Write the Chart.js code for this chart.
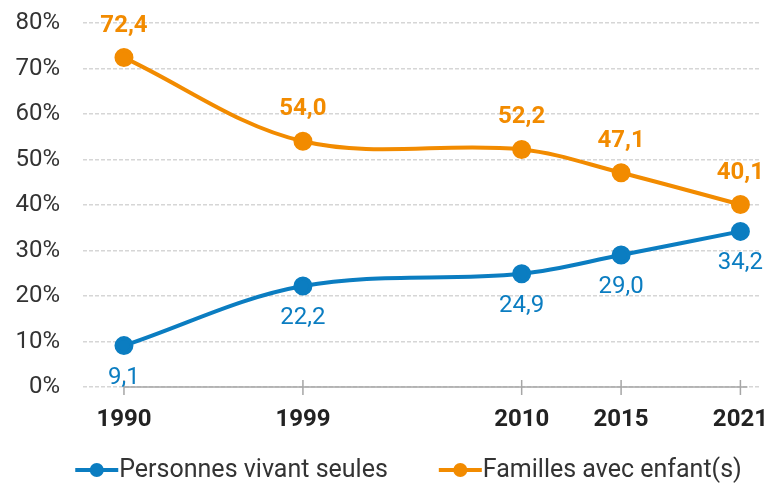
<!DOCTYPE html>
<html>
<head>
<meta charset="utf-8">
<script src="https://cdn.jsdelivr.net/npm/chart.js@4"></script>
<style>
html,body{margin:0;padding:0;background:#fff;}
#wrap{width:771px;height:486px;position:relative;}
</style>
</head>
<body>
<div id="wrap"><canvas id="c" width="771" height="486"></canvas></div>
<script>
const years = [1990, 1999, 2010, 2015, 2021];
const seules = [9.1, 22.2, 24.9, 29.0, 34.2];
const familles = [72.4, 54.0, 52.2, 47.1, 40.1];
const yTicks = [0, 10, 20, 30, 40, 50, 60, 70, 80];
const seriesNames = ['Personnes vivant seules', 'Familles avec enfant(s)'];

const BLUE = '#0b7dc1';
const ORANGE = '#f28b00';
const TEXT = '#333333';

const fmt = v => v.toFixed(1).replace('.', ',');

const labelsPlugin = {
  id: 'valueLabels',
  afterDatasetsDraw(chart) {
    const ctx = chart.ctx;
    chart.data.datasets.forEach((ds, di) => {
      const meta = chart.getDatasetMeta(di);
      ctx.save();
      ctx.fillStyle = ds.borderColor;
      ctx.textAlign = 'center';
      ctx.textBaseline = 'middle';
      ctx.font = di === 1 ? 'bold 24px Roboto' : '24px Roboto';
      meta.data.forEach((pt, i) => {
        const dy = di === 1 ? -32 : 32;
        ctx.fillText(fmt(ds.data[i].y), pt.x, pt.y + dy);
      });
      ctx.restore();
    });
  }
};

const axisPlugin = {
  id: 'xAxisLine',
  beforeDatasetsDraw(chart) {
    const ctx = chart.ctx;
    const xs = chart.scales.x, ys = chart.scales.y;
    const y0 = ys.getPixelForValue(0);
    const x1 = xs.getPixelForValue(years[0]);
    const x2 = xs.getPixelForValue(years[years.length - 1]);
    ctx.save();
    ctx.strokeStyle = '#a6a6a6';
    ctx.lineWidth = 1.5;
    ctx.beginPath();
    ctx.moveTo(x1, y0); ctx.lineTo(x2 + 7, y0);
    years.forEach(yr => {
      const x = xs.getPixelForValue(yr);
      ctx.moveTo(x, y0 - 7); ctx.lineTo(x, y0 + 8);
    });
    ctx.stroke();
    ctx.restore();
  }
};

const legendPlugin = {
  id: 'customLegend',
  afterDraw(chart) {
    const ctx = chart.ctx;
    ctx.save();
    ctx.font = '25px Roboto';
    ctx.textBaseline = 'middle';
    ctx.textAlign = 'left';
    const iconW = 43, textGap = 1, itemGap = 51;
    const items = chart.data.datasets.map(ds => ({
      color: ds.borderColor, text: ds.label, w: ctx.measureText(ds.label).width
    }));
    const total = items.reduce((s, it) => s + iconW + textGap + it.w, 0) + itemGap * (items.length - 1);
    let x = chart.width / 2 + 23 - total / 2;
    const y = 470;
    items.forEach(it => {
      ctx.strokeStyle = it.color; ctx.lineWidth = 4;
      ctx.beginPath(); ctx.moveTo(x, y); ctx.lineTo(x + iconW, y); ctx.stroke();
      ctx.fillStyle = it.color;
      ctx.beginPath(); ctx.arc(x + iconW / 2, y, 7, 0, Math.PI * 2); ctx.fill();
      ctx.fillStyle = TEXT;
      ctx.fillText(it.text, x + iconW + textGap, y + 1);
      x += iconW + textGap + it.w + itemGap;
    });
    ctx.restore();
  }
};

const mk = (arr) => arr.map((v, i) => ({ x: years[i], y: v }));

new Chart(document.getElementById('c'), {
  type: 'line',
  data: {
    datasets: [
      {
        label: seriesNames[0], data: mk(seules), borderColor: BLUE, backgroundColor: BLUE,
        borderWidth: 4, pointRadius: 7.5, pointHoverRadius: 7.5, tension: 0.35
      },
      {
        label: seriesNames[1], data: mk(familles), borderColor: ORANGE, backgroundColor: ORANGE,
        borderWidth: 4, pointRadius: 7.5, pointHoverRadius: 7.5, tension: 0.35
      }
    ]
  },
  options: {
    responsive: false,
    animation: false,
    devicePixelRatio: 1,
    layout: { padding: { left: 16, right: 0, top: 23, bottom: 51 } },
    scales: {
      x: {
        type: 'linear', min: 1987.94, max: 2021.96,
        afterBuildTicks: s => { s.ticks = years.map(v => ({ value: v })); },
        afterFit: s => { s.paddingLeft = 0; s.paddingRight = 0; s.paddingTop = 0; s.paddingBottom = 0; s.height = 48; },
        grid: { display: false, drawTicks: false },
        border: { display: false },
        ticks: {
          callback: v => String(v), color: '#222',
          font: { family: 'Roboto', size: 24, weight: 'bold' }, padding: 19, maxRotation: 0
        }
      },
      y: {
        min: 0, max: 80,
        afterBuildTicks: s => { s.ticks = yTicks.map(v => ({ value: v })); },
        afterFit: s => { s.paddingTop = 0; s.paddingBottom = 0; s.paddingLeft = 0; s.paddingRight = 0; s.width = 67; },
        grid: { color: '#d6d6d6', lineWidth: 1.5, drawTicks: false },
        border: { display: false, dash: [4, 2] },
        ticks: {
          callback: v => v + '%', color: TEXT,
          font: { family: 'Roboto', size: 24 }, padding: 23
        }
      }
    },
    plugins: {
      legend: { display: false },
      tooltip: { enabled: false }
    }
  },
  plugins: [axisPlugin, labelsPlugin, legendPlugin]
});
</script>
</body>
</html>
